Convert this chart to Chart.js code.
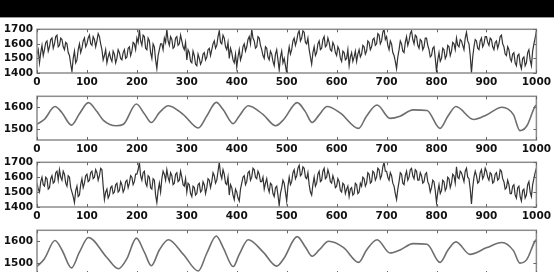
<!DOCTYPE html>
<html>
<head>
<meta charset="utf-8">
<script src="https://cdn.jsdelivr.net/npm/chart.js@4.4.1/dist/chart.umd.min.js"></script>
<style>
  html, body { margin: 0; padding: 0; background: #fff; width: 554px; height: 272px; overflow: hidden; }
  #band { position: absolute; left: 0; top: 0; width: 554px; height: 17px; background: #000; border-bottom: 1px solid #9a9a9a; }
  canvas { position: absolute; left: 0; }
</style>
</head>
<body>
<div id="band"></div>
<canvas id="c1" width="554" height="70"></canvas>
<canvas id="c2" width="554" height="70"></canvas>
<canvas id="c3" width="554" height="71"></canvas>
<canvas id="c4" width="554" height="70"></canvas>
<script>
// x tick labels shared by all four panels
const xTicks = [0, 100, 200, 300, 400, 500, 600, 700, 800, 900, 1000];
const step = 2.5; // sample spacing of the raw series

// panel 1: raw series, one value every 2.5 samples
const raw1 = [
  1530, 1560, 1470, 1540, 1590, 1520, 1560, 1610, 1620, 1550, 1580, 1630, 1640, 1570, 1600, 1650, 1660, 1580, 1590, 1640,
  1630, 1580, 1560, 1610, 1600, 1540, 1520, 1460, 1410, 1500, 1550, 1470, 1490, 1560, 1600, 1540, 1570, 1620, 1640, 1580,
  1600, 1640, 1660, 1600, 1590, 1650, 1630, 1580, 1620, 1670, 1650, 1600, 1560, 1490, 1520, 1560, 1470, 1510, 1540, 1500,
  1480, 1550, 1530, 1470, 1500, 1560, 1540, 1500, 1490, 1540, 1560, 1500, 1510, 1570, 1580, 1520, 1550, 1610, 1600, 1560,
  1640, 1610, 1700, 1620, 1590, 1660, 1650, 1570, 1560, 1640, 1620, 1540, 1500, 1600, 1580, 1490, 1430, 1520, 1560, 1600,
  1600, 1560, 1640, 1610, 1700, 1620, 1590, 1650, 1630, 1570, 1580, 1640, 1650, 1590, 1600, 1660, 1620, 1580, 1560, 1610,
  1490, 1560, 1540, 1480, 1470, 1550, 1520, 1460, 1450, 1530, 1500, 1460, 1480, 1530, 1540, 1490, 1510, 1560, 1570, 1520,
  1560, 1600, 1620, 1570, 1590, 1650, 1690, 1610, 1600, 1660, 1640, 1580, 1560, 1610, 1500, 1570, 1540, 1490, 1470, 1530,
  1440, 1510, 1560, 1490, 1520, 1580, 1600, 1550, 1580, 1630, 1650, 1600, 1700, 1640, 1620, 1570, 1580, 1650, 1640, 1590,
  1560, 1520, 1500, 1580, 1570, 1510, 1490, 1550, 1530, 1480, 1450, 1530, 1560, 1490, 1420, 1510, 1550, 1470, 1500, 1450,
  1400, 1520, 1580, 1530, 1560, 1620, 1640, 1590, 1620, 1670, 1690, 1620, 1640, 1690, 1680, 1610, 1600, 1640, 1560, 1510,
  1460, 1540, 1580, 1520, 1540, 1600, 1620, 1560, 1570, 1630, 1650, 1580, 1590, 1640, 1610, 1560, 1550, 1610, 1590, 1540,
  1520, 1580, 1560, 1500, 1480, 1550, 1540, 1490, 1500, 1560, 1450, 1510, 1540, 1480, 1510, 1550, 1480, 1530, 1560, 1510,
  1530, 1590, 1580, 1530, 1550, 1620, 1610, 1560, 1580, 1630, 1640, 1590, 1600, 1670, 1660, 1600, 1620, 1680, 1700, 1630,
  1650, 1590, 1560, 1620, 1600, 1540, 1520, 1480, 1430, 1510, 1560, 1620, 1600, 1550, 1540, 1610, 1650, 1590, 1620, 1670,
  1690, 1630, 1600, 1660, 1650, 1590, 1570, 1630, 1620, 1560, 1580, 1640, 1640, 1590, 1560, 1510, 1520, 1570, 1580, 1500,
  1410, 1490, 1540, 1480, 1500, 1570, 1560, 1500, 1520, 1590, 1580, 1520, 1550, 1610, 1600, 1560, 1640, 1590, 1580, 1630,
  1620, 1590, 1560, 1640, 1680, 1620, 1600, 1520, 1400, 1510, 1580, 1630, 1620, 1570, 1560, 1620, 1640, 1580, 1600, 1650,
  1650, 1610, 1590, 1640, 1630, 1580, 1560, 1610, 1620, 1570, 1600, 1650, 1660, 1600, 1580, 1530, 1520, 1580, 1560, 1500,
  1480, 1530, 1540, 1470, 1450, 1520, 1530, 1460, 1430, 1500, 1510, 1450, 1470, 1540, 1560, 1490, 1450, 1550, 1600, 1640,
  1690
];

// panel 2: smoothed series, read at its turning points
const smooth2X = [0, 15, 36, 50, 69, 85, 103, 120, 133, 159, 173, 199, 215, 229, 245, 263, 293, 323, 340, 359, 373, 393, 405, 423, 453, 478, 494, 521, 537, 551, 565, 581, 607, 644, 660, 681, 707, 727, 753, 781, 807, 823, 839, 874, 901, 931, 954, 967, 981, 997, 1000];
const smooth2Y = [1522, 1545, 1603, 1575, 1518, 1570, 1621, 1580, 1540, 1515, 1522, 1615, 1570, 1530, 1575, 1607, 1566, 1505, 1560, 1622, 1588, 1525, 1560, 1607, 1566, 1515, 1544, 1621, 1581, 1530, 1565, 1603, 1574, 1503, 1560, 1610, 1549, 1559, 1588, 1585, 1503, 1560, 1603, 1544, 1566, 1600, 1566, 1493, 1515, 1603, 1610];

// panel 3: second raw series
const raw3 = [
  1560, 1520, 1500, 1570, 1600, 1550, 1540, 1600, 1590, 1520, 1530, 1590, 1610, 1560, 1570, 1630, 1640, 1580, 1650, 1600,
  1580, 1640, 1620, 1560, 1540, 1610, 1600, 1530, 1500, 1470, 1430, 1510, 1540, 1470, 1480, 1550, 1590, 1530, 1560, 1610,
  1620, 1570, 1580, 1630, 1640, 1590, 1600, 1650, 1630, 1580, 1610, 1660, 1650, 1540, 1450, 1500, 1520, 1460, 1480, 1530,
  1540, 1490, 1500, 1550, 1560, 1500, 1510, 1570, 1550, 1500, 1520, 1570, 1580, 1530, 1560, 1610, 1600, 1550, 1570, 1620,
  1620, 1650, 1700, 1610, 1580, 1630, 1640, 1560, 1540, 1610, 1600, 1530, 1520, 1590, 1580, 1480, 1430, 1510, 1560, 1500,
  1590, 1640, 1620, 1580, 1650, 1600, 1570, 1630, 1610, 1550, 1560, 1620, 1630, 1570, 1580, 1640, 1600, 1550, 1540, 1590,
  1500, 1560, 1550, 1490, 1470, 1540, 1530, 1480, 1490, 1550, 1560, 1500, 1510, 1570, 1550, 1490, 1530, 1590, 1580, 1530,
  1570, 1630, 1610, 1560, 1580, 1640, 1700, 1620, 1590, 1650, 1620, 1560, 1550, 1600, 1480, 1550, 1530, 1480, 1450, 1520,
  1500, 1460, 1440, 1520, 1560, 1600, 1610, 1550, 1570, 1630, 1640, 1580, 1600, 1660, 1650, 1600, 1590, 1640, 1620, 1570,
  1570, 1600, 1520, 1560, 1590, 1530, 1500, 1560, 1550, 1490, 1470, 1530, 1540, 1480, 1410, 1490, 1530, 1580, 1560, 1500,
  1440, 1540, 1600, 1550, 1570, 1630, 1650, 1590, 1610, 1660, 1680, 1610, 1620, 1670, 1660, 1600, 1590, 1630, 1550, 1500,
  1480, 1550, 1600, 1540, 1560, 1620, 1640, 1570, 1580, 1640, 1660, 1590, 1600, 1650, 1620, 1570, 1560, 1610, 1580, 1530,
  1540, 1590, 1570, 1510, 1500, 1560, 1550, 1490, 1520, 1540, 1470, 1520, 1530, 1480, 1490, 1560, 1550, 1490, 1500, 1560,
  1540, 1600, 1590, 1540, 1560, 1630, 1620, 1560, 1570, 1640, 1630, 1580, 1600, 1660, 1650, 1590, 1610, 1670, 1700, 1640,
  1640, 1600, 1580, 1630, 1610, 1560, 1540, 1490, 1450, 1520, 1570, 1630, 1620, 1560, 1550, 1610, 1640, 1580, 1600, 1650,
  1660, 1610, 1590, 1650, 1640, 1580, 1580, 1630, 1610, 1560, 1570, 1620, 1630, 1570, 1550, 1500, 1530, 1580, 1570, 1510,
  1430, 1500, 1550, 1490, 1510, 1580, 1570, 1510, 1530, 1600, 1590, 1530, 1560, 1620, 1610, 1560, 1670, 1600, 1590, 1640,
  1630, 1600, 1570, 1640, 1660, 1600, 1590, 1520, 1420, 1530, 1600, 1640, 1610, 1560, 1570, 1630, 1650, 1590, 1610, 1660,
  1640, 1600, 1580, 1630, 1620, 1560, 1570, 1620, 1630, 1580, 1590, 1650, 1640, 1590, 1570, 1520, 1530, 1580, 1550, 1490,
  1490, 1540, 1550, 1480, 1460, 1530, 1540, 1470, 1440, 1510, 1520, 1460, 1480, 1550, 1570, 1500, 1470, 1550, 1590, 1630,
  1660
];

// panel 4: smoothed second series
const smooth4X = [0, 15, 36, 50, 69, 85, 103, 139, 163, 180, 199, 215, 229, 245, 263, 293, 323, 340, 359, 373, 393, 405, 423, 453, 480, 494, 521, 537, 551, 565, 584, 614, 644, 660, 681, 707, 727, 753, 781, 807, 823, 839, 867, 901, 931, 954, 967, 981, 997, 1000];
const smooth4Y = [1484, 1520, 1603, 1560, 1478, 1550, 1617, 1528, 1474, 1520, 1614, 1550, 1488, 1560, 1607, 1540, 1464, 1545, 1624, 1570, 1484, 1540, 1607, 1550, 1486, 1520, 1621, 1575, 1531, 1560, 1600, 1571, 1503, 1560, 1607, 1546, 1560, 1589, 1586, 1503, 1560, 1597, 1540, 1571, 1594, 1557, 1500, 1517, 1600, 1608];

// y tick labels per panel
const yTicksWide = [1400, 1500, 1600, 1700];
const yTicksNarrow = [1500, 1600];

function rawPoints(vals) {
  return vals.map((v, i) => ({ x: i * step, y: v }));
}
function keyPoints(xs, ys) {
  return xs.map((x, i) => ({ x: x, y: ys[i] }));
}

// MATLAB-like box with inward tick marks
const framePlugin = {
  id: 'frame',
  afterDraw(chart) {
    const { ctx, chartArea: a, scales } = chart;
    ctx.save();
    ctx.strokeStyle = '#8c8c8c';
    ctx.lineWidth = 1.5;
    ctx.strokeRect(a.left, a.top, a.right - a.left, a.bottom - a.top);
    ctx.lineWidth = 1;
    ctx.strokeStyle = '#666';
    ctx.beginPath();
    xTicks.forEach(v => {
      const px = Math.round(scales.x.getPixelForValue(v)) + 0.5;
      ctx.moveTo(px, a.top); ctx.lineTo(px, a.top + 3);
      ctx.moveTo(px, a.bottom); ctx.lineTo(px, a.bottom - 3);
    });
    scales.y.ticks.forEach(t => {
      const py = Math.round(scales.y.getPixelForValue(t.value)) + 0.5;
      ctx.moveTo(a.left, py); ctx.lineTo(a.left + 3, py);
      ctx.moveTo(a.right, py); ctx.lineTo(a.right - 3, py);
    });
    ctx.stroke();
    ctx.restore();
  }
};

const tickFont = { family: 'DejaVu Sans', size: 10.5, weight: 'bold' };
const plain = v => String(v);

function makePanel(id, top, plotH, data, yMin, yMax, yTicks, color, width, smooth) {
  const canvas = document.getElementById(id);
  const padTop = 8;
  canvas.style.top = (top - padTop) + 'px';
  canvas.height = padTop + plotH + 16;
  new Chart(canvas, {
    type: 'line',
    data: {
      datasets: [{
        data: data,
        borderColor: color,
        borderWidth: width,
        pointRadius: 0,
        tension: smooth ? 0.4 : 0,
        cubicInterpolationMode: smooth ? 'monotone' : 'default',
        fill: false
      }]
    },
    options: {
      responsive: false,
      animation: false,
      layout: { padding: { top: padTop, right: 17, left: 0, bottom: 0 } },
      plugins: { legend: { display: false }, tooltip: { enabled: false } },
      scales: {
        x: {
          type: 'linear', min: 0, max: 1000,
          grid: { display: false, drawTicks: false },
          border: { display: false },
          afterBuildTicks: s => { s.ticks = xTicks.map(v => ({ value: v })); },
          afterFit: s => { s.height = 16; },
          ticks: { font: tickFont, color: '#111', padding: 3, maxRotation: 0, autoSkip: false, callback: plain }
        },
        y: {
          min: yMin, max: yMax,
          grid: { display: false, drawTicks: false },
          border: { display: false },
          afterBuildTicks: s => { s.ticks = yTicks.map(v => ({ value: v })); },
          afterFit: s => { s.width = 37; },
          ticks: { font: tickFont, color: '#111', padding: 4, autoSkip: false, callback: plain }
        }
      }
    },
    plugins: [framePlugin]
  });
}

makePanel('c1', 27, 46, rawPoints(raw1), 1400, 1700, yTicksWide, '#333', 1.2, false);
makePanel('c2', 94, 46, keyPoints(smooth2X, smooth2Y), 1450, 1650, yTicksNarrow, '#6e6e6e', 1.6, true);
makePanel('c3', 160, 47, rawPoints(raw3), 1400, 1700, yTicksWide, '#333', 1.2, false);
makePanel('c4', 228, 46, keyPoints(smooth4X, smooth4Y), 1450, 1650, yTicksNarrow, '#6e6e6e', 1.6, true);
</script>
</body>
</html>
